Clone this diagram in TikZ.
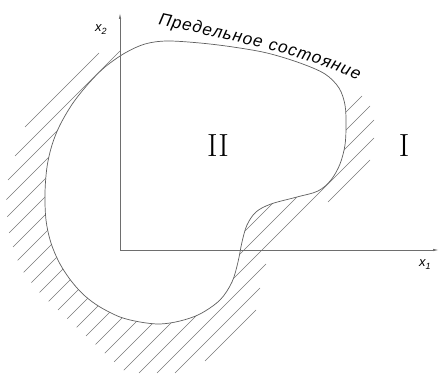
\documentclass[tikz,border=0pt]{standalone}
\usepackage{fontspec}
\newfontfamily\gostfam{Liberation Sans}
\usetikzlibrary{arrows.meta,decorations.text}
\definecolor{hatchcol}{RGB}{120,120,120}
\definecolor{curvecol}{RGB}{95,95,95}
\definecolor{axiscol}{RGB}{110,110,110}
\newcommand\gosttext{\gostfam\itshape\fontsize{17}{17}\selectfont}
\begin{document}
\begin{tikzpicture}[x=1pt,y=-1pt,
  hatch/.style={draw=hatchcol,line width=0.6pt},
  boundary/.style={draw=curvecol,line width=0.7pt,fill=white},
  axis/.style={draw=axiscol,line width=0.7pt,-{Latex[length=6pt,width=2.4pt]}},
  roman/.style={font=\fontsize{32}{32}\selectfont,inner sep=0pt},
  axlabel/.style={font=\gostfam\itshape\fontsize{13}{13}\selectfont,inner sep=0pt}]
\useasboundingbox (0,0) rectangle (440,374);
% hatching outside the limit-state boundary
\foreach \c/\a/\b in {188/8/94, 206/6.4/103, 224/7.3/112, 242/9.2/121, 260/13/130,
  278/17.7/139, 296/23.7/148, 314/31.4/157, 332/39.5/166, 350/48.7/175,
  368/58/184, 386/67.3/193, 404/76.7/202, 422/86/211, 440/95.5/220,
  458/104.8/362, 476/114.2/370, 494/123.8/374, 512/139/374,
  530/157/266, 530/328/370, 548/175/260, 566/205/256}
  \draw[hatch] ({\a},{\c-\a}) -- ({\b},{\c-\b});
% limit-state boundary
\filldraw[boundary] plot[smooth cycle,tension=0.55] coordinates {
  (167,41) (200,43) (233,47) (267,53) (300,63) (325,74) (339,88) (345,105)
  (346,125) (345,145) (340,164) (331,180) (318,191) (297,197) (271,204)
  (256,212) (247,225) (242,242) (238,262) (232,282) (220,300) (200,314)
  (180,321) (160,324) (140,322) (120,317) (100,307) (85,296) (72,282)
  (60,264) (51,243) (46,220) (45,193) (47,167) (52,145) (60,125) (73,103)
  (89,83) (105,67) (125,53) (145,44)};
\draw[hatch] (25,127) -- (99,53);
\draw[hatch] (15,156) -- (120,51);
% axes
\coordinate (O) at (120,250);
\coordinate (Y) at (120,13);
\coordinate (X) at (439,250);
\draw[axis] (O) -- (Y);
\draw[axis] (O) -- (X);
% labels
\node[roman] (II) at (218,146) {II};
\node[roman] (I) at (404,146) {I};
\node[axlabel] (x2) at (101,30) {x\raisebox{-3pt}{\fontsize{9}{9}\selectfont 2}};
\node[axlabel] (x1) at (425,265) {x\raisebox{-3pt}{\fontsize{9}{9}\selectfont 1}};
\path[decorate,decoration={text along path,text align=fit to path,
  text={|\gosttext|Предельное состояние}}]
  (158,25) .. controls (230,40) and (300,54) .. (358,80);
\end{tikzpicture}
\end{document}
